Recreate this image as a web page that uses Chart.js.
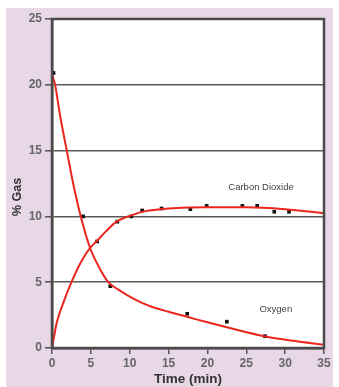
<!DOCTYPE html>
<html lang="en">
<head>
    <meta charset="UTF-8">
    <title>% Gas vs Time</title>
    <script src="https://cdn.jsdelivr.net/npm/chart.js"></script>
    <style>
        html, body { margin: 0; padding: 0; background: #fff; }
        #wrap { position: relative; width: 339px; height: 387px; }
    </style>
</head>
<body>
    <div id="wrap"><canvas id="gasChart" width="339" height="387"></canvas></div>
    <script>
        // measured points
        const o2Times = [0.2, 4, 7.5, 17.4, 22.5, 27.4];
        const o2Values = [20.9, 10, 4.7, 2.6, 2.0, 0.9];
        const co2Times = [5.8, 8.4, 10.2, 11.6, 14.1, 17.8, 19.9, 24.5, 26.4, 28.6, 30.5];
        const co2Values = [8.1, 9.6, 10.0, 10.45, 10.6, 10.55, 10.8, 10.8, 10.8, 10.35, 10.35];

        // fitted curves
        const o2FitTimes = [0, 0.4, 1, 1.9, 2.9, 3.7, 4.9, 6, 7.25, 8.5, 10, 11.5, 13, 15, 17.5, 20, 23, 27.3, 31, 35];
        const o2FitValues = [20.8, 20, 17.8, 15, 12, 10, 7.6, 6.2, 5.0, 4.45, 3.9, 3.45, 3.1, 2.75, 2.35, 1.95, 1.5, 0.9, 0.55, 0.25];
        const co2FitTimes = [0, 0.6, 1.5, 2.5, 3.7, 4.9, 5.8, 7, 8.3, 10.3, 12, 15, 20, 25, 30, 35];
        const co2FitValues = [0, 1.9, 3.5, 5, 6.5, 7.6, 8.15, 8.9, 9.6, 10.1, 10.4, 10.6, 10.7, 10.7, 10.55, 10.25];

        const xTicks = [0, 5, 10, 15, 20, 25, 30, 35];
        const yTicks = [0, 5, 10, 15, 20, 25];
        const curveLabels = [
            { text: 'Carbon Dioxide', t: 26.9, v: 12.2 },
            { text: 'Oxygen', t: 28.8, v: 2.9 }
        ];

        const toXY = (xs, ys) => xs.map((x, i) => ({ x: x, y: ys[i] }));
        const red = 'rgb(235, 38, 30)';
        const family = '"Liberation Sans", Arial, sans-serif';

        const panelPlugin = {
            id: 'panel',
            beforeDraw(chart) {
                const ctx = chart.ctx;
                const a = chart.chartArea;
                ctx.save();
                ctx.fillStyle = '#e8d7e6';
                ctx.fillRect(6, 8, 327, 379);
                ctx.fillStyle = '#ffffff';
                ctx.fillRect(a.left, a.top, a.right - a.left, a.bottom - a.top);
                ctx.restore();
            },
            afterDraw(chart) {
                const ctx = chart.ctx;
                const a = chart.chartArea;
                ctx.save();
                ctx.strokeStyle = '#4a4a4a';
                ctx.lineWidth = 2.5;
                ctx.strokeRect(a.left, a.top, a.right - a.left, a.bottom - a.top);
                ctx.fillStyle = '#444';
                ctx.font = '9.5px ' + family;
                ctx.textAlign = 'center';
                ctx.textBaseline = 'middle';
                curveLabels.forEach(l => {
                    ctx.fillText(l.text, chart.scales.x.getPixelForValue(l.t), chart.scales.y.getPixelForValue(l.v));
                });
                // y axis title, sits a little below the axis middle in the original
                ctx.translate(18, 197);
                ctx.rotate(-Math.PI / 2);
                ctx.fillStyle = '#333';
                ctx.font = 'bold 12.5px ' + family;
                ctx.fillText('% Gas', 0, 0);
                ctx.restore();
            }
        };

        const font = { family: family, weight: 'bold' };

        new Chart(document.getElementById('gasChart'), {
            type: 'scatter',
            data: {
                datasets: [
                    {
                        label: 'Oxygen fit',
                        data: toXY(o2FitTimes, o2FitValues),
                        showLine: true,
                        borderColor: red,
                        borderWidth: 2,
                        pointRadius: 0,
                        cubicInterpolationMode: 'monotone'
                    },
                    {
                        label: 'Carbon Dioxide fit',
                        data: toXY(co2FitTimes, co2FitValues),
                        showLine: true,
                        borderColor: red,
                        borderWidth: 2,
                        pointRadius: 0,
                        cubicInterpolationMode: 'monotone'
                    },
                    {
                        label: 'Oxygen',
                        data: toXY(o2Times, o2Values),
                        pointStyle: 'rect',
                        pointRadius: 2.6,
                        backgroundColor: '#111',
                        borderColor: '#111',
                        borderWidth: 0
                    },
                    {
                        label: 'Carbon Dioxide',
                        data: toXY(co2Times, co2Values),
                        pointStyle: 'rect',
                        pointRadius: 2.6,
                        backgroundColor: '#111',
                        borderColor: '#111',
                        borderWidth: 0
                    }
                ]
            },
            options: {
                responsive: false,
                animation: false,
                layout: { padding: { left: 0, top: 19, right: 15, bottom: 0 } },
                plugins: { legend: { display: false }, tooltip: { enabled: false } },
                scales: {
                    x: {
                        type: 'linear',
                        min: 0,
                        max: 35,
                        afterBuildTicks: s => { s.ticks = xTicks.map(v => ({ value: v })); },
                        afterFit: s => { s.height = 39; },
                        grid: { drawOnChartArea: false, drawTicks: true, tickLength: 6, color: '#555', lineWidth: 1.5 },
                        border: { color: '#4a4a4a', width: 2.5 },
                        ticks: { color: '#666', padding: 2, font: Object.assign({ size: 12 }, font), maxRotation: 0 },
                        title: {
                            display: true,
                            text: 'Time (min)',
                            color: '#333',
                            font: Object.assign({ size: 13.5, lineHeight: 1 }, font),
                            padding: { top: 0, bottom: 1 }
                        }
                    },
                    y: {
                        type: 'linear',
                        min: 0,
                        max: 25,
                        afterBuildTicks: s => { s.ticks = yTicks.map(v => ({ value: v })); },
                        afterFit: s => { s.width = 52; },
                        grid: { drawTicks: true, tickLength: 7, color: '#5a5a5a', lineWidth: 1.6 },
                        border: { color: '#4a4a4a', width: 2.5 },
                        ticks: { color: '#666', padding: 3, font: Object.assign({ size: 12 }, font) },
                        title: { display: false }
                    }
                }
            },
            plugins: [panelPlugin]
        });
    </script>
</body>
</html>
